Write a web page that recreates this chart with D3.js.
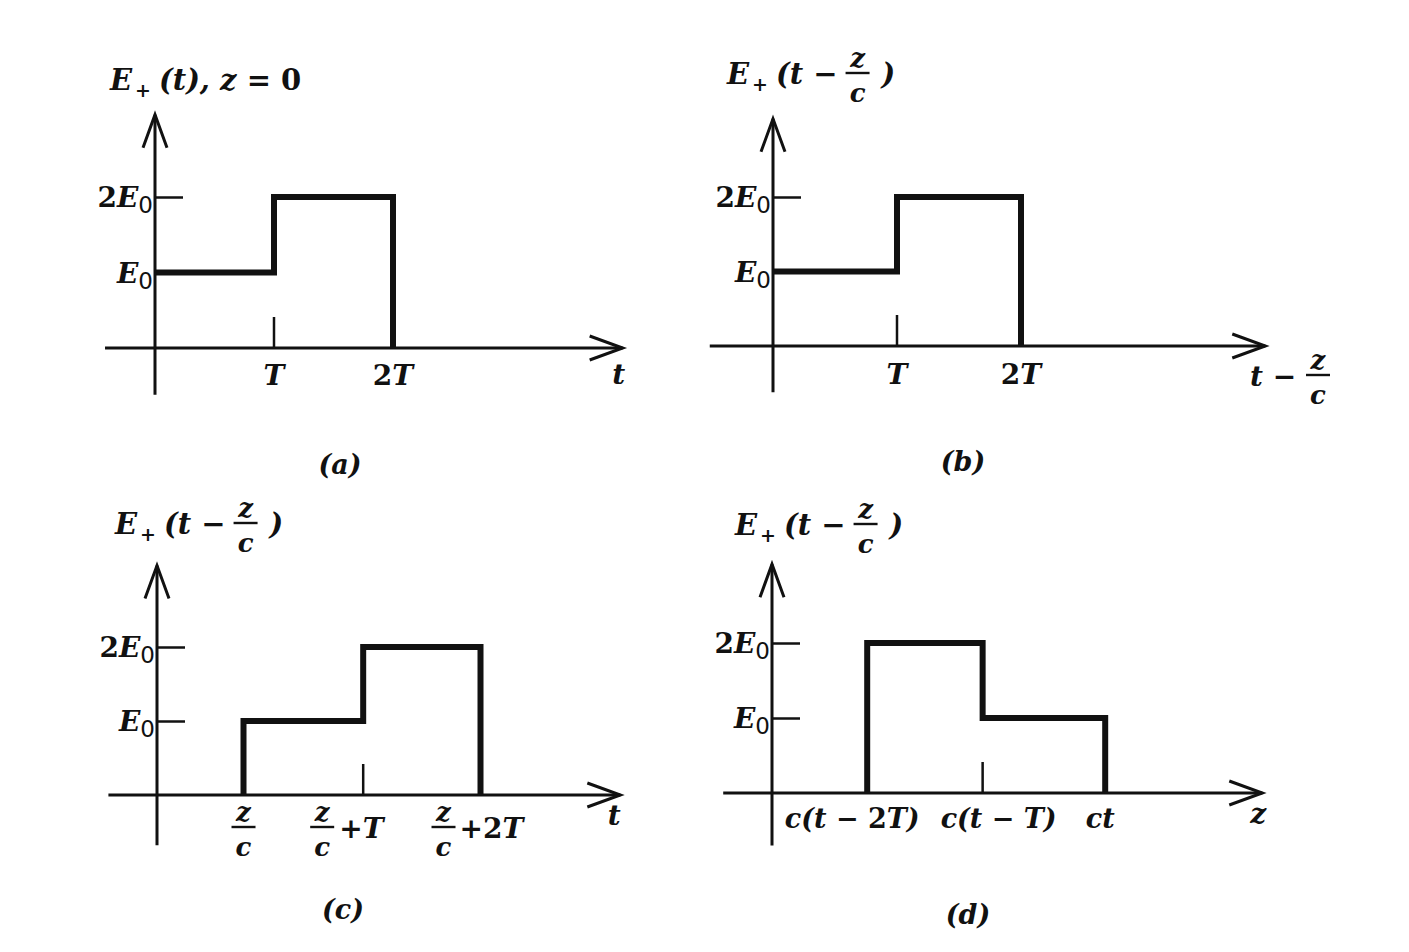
<!DOCTYPE html>
<html><head><meta charset="utf-8">
<script src="https://cdn.jsdelivr.net/npm/d3@7"></script>
<style>body{margin:0;background:#fff}</style>
</head><body><svg id="c" width="1409" height="952"></svg>
<script>
// ---- data ----
const levelValues = [1, 2];
const levelNames = [["", "E", "0"], ["2", "E", "0"]];
const edgesA = [0, 1, 2], heightsA = [1, 2];
const edgesB = [0, 1, 2], heightsB = [1, 2];
const edgesC = [0.73, 1.74, 2.73], heightsC = [1, 2];
const edgesD = [0.8, 1.77, 2.8], heightsD = [2, 1];
const tickLabelsA = ["", "T", "2T"];
const tickLabelsB = ["", "T", "2T"];
const tickLabelsC = ["", "+T", "+2T"];   // each preceded by z/c
const tickLabelsD = ["c(t − 2T)", "c(t − T)", "ct"];
const captions = ["(a)", "(b)", "(c)", "(d)"];

const svg = d3.select("#c");
const INK = "#111";
const FONT = "'DejaVu Serif','Liberation Serif',serif";

const panels = [
  {cap: captions[0], ox:155, oy:348, ux:119, uy:75.5, x0:-0.42, x1:3.93, y0:-0.62, y1:3.09, edges:edgesA, heights:heightsA, ticks:tickLabelsA, capX:340, capY:474},
  {cap: captions[1], ox:773, oy:346, ux:124, uy:74.5, x0:-0.51, x1:3.97, y0:-0.62, y1:3.05, edges:edgesB, heights:heightsB, ticks:tickLabelsB, capX:963, capY:471},
  {cap: captions[2], ox:157, oy:795, ux:118.5, uy:74, x0:-0.41, x1:3.91, y0:-0.68, y1:3.1, edges:edgesC, heights:heightsC, ticks:tickLabelsC, capX:343, capY:919},
  {cap: captions[3], ox:772, oy:793, ux:119, uy:75, x0:-0.41, x1:4.12, y0:-0.7, y1:3.05, edges:edgesD, heights:heightsD, ticks:tickLabelsD, capX:968, capY:924}
];

function txt(g, x, y, size, anchor) {
  return g.append("text").attr("x", x).attr("y", y)
    .attr("font-family", FONT).attr("font-size", size)
    .attr("font-weight", "bold").attr("font-style", "italic")
    .attr("fill", INK).attr("text-anchor", anchor || "start");
}
function frac(g, cx, yBar, size, w) {
  txt(g, cx, yBar - 6, size, "middle").text("z");
  g.append("line").attr("x1", cx - w/2).attr("x2", cx + w/2).attr("y1", yBar).attr("y2", yBar)
    .attr("stroke", INK).attr("stroke-width", 2.4);
  txt(g, cx, yBar + size * 1.1, size, "middle").text("c");
}
function title(g, x, y, withFrac) {
  const t = txt(g, x, y, 29);
  t.append("tspan").text("E");
  t.append("tspan").attr("font-size", 19).attr("font-style", "normal").attr("dy", 7).attr("dx", 3).text("+");
  if (!withFrac) {
    t.append("tspan").attr("dy", -7).attr("dx", 8).text("(t), z ");
    t.append("tspan").attr("font-style", "normal").text("= 0");
  } else {
    t.append("tspan").attr("dy", -7).attr("dx", 8).text("(t ");
    t.append("tspan").attr("font-style", "normal").text("−");
    const bb = t.node().getBBox();
    const fx = bb.x + bb.width + 20;
    frac(g, fx, y - 11, 26, 24);
    txt(g, fx + 24, y, 29).text(")");
  }
}
function arrowHead(g, x, y, dir) {
  const L = 33, W = 12;
  let pts;
  if (dir === "up") pts = [[x - W, y + L], [x, y], [x + W, y + L]];
  else pts = [[x - L, y - W], [x, y], [x - L, y + W]];
  g.append("path").attr("d", d3.line()(pts)).attr("fill", "none")
    .attr("stroke", INK).attr("stroke-width", 3).attr("stroke-linejoin", "miter");
}

panels.forEach((p, i) => {
  const g = svg.append("g");
  const x = d3.scaleLinear().domain([0, 1]).range([p.ox, p.ox + p.ux]);
  const y = d3.scaleLinear().domain([0, 1]).range([p.oy, p.oy - p.uy]);

  // axes
  g.append("line").attr("x1", x(p.x0)).attr("x2", x(p.x1)).attr("y1", y(0)).attr("y2", y(0))
    .attr("stroke", INK).attr("stroke-width", 3);
  arrowHead(g, x(p.x1), y(0), "right");
  g.append("line").attr("x1", x(0)).attr("x2", x(0)).attr("y1", y(p.y0)).attr("y2", y(p.y1))
    .attr("stroke", INK).attr("stroke-width", 3);
  arrowHead(g, x(0), y(p.y1), "up");

  // level ticks (inside, to the right of the y axis)
  const lv = g.append("g").attr("transform", `translate(${x(0)},0)`)
    .call(d3.axisRight(y).tickValues(levelValues).tickSize(28).tickFormat(""));
  lv.select(".domain").remove();
  lv.selectAll(".tick line").attr("stroke", INK).attr("stroke-width", 2.5);

  // level labels
  levelValues.forEach((v, k) => {
    const n = levelNames[k];
    const t = txt(g, x(0) - 2, y(v) + 10, 28, "end");
    if (n[0]) t.append("tspan").attr("font-style", "normal").text(n[0]);
    t.append("tspan").text(n[1]);
    t.append("tspan").attr("font-size", 23).attr("font-weight", "normal").attr("font-style", "normal")
      .attr("font-family", "'DejaVu Sans',sans-serif").attr("dy", 6).text(n[2]);
  });

  // tick at the middle edge
  g.append("line").attr("x1", x(p.edges[1])).attr("x2", x(p.edges[1]))
    .attr("y1", y(0)).attr("y2", y(0) - 31).attr("stroke", INK).attr("stroke-width", 2.5);

  // pulse
  const e = p.edges, h = p.heights;
  const pts = [];
  if (e[0] > 0) pts.push([e[0], 0]);
  pts.push([e[0], h[0]], [e[1], h[0]], [e[1], h[1]], [e[2], h[1]], [e[2], 0]);
  g.append("path").attr("d", d3.line().x(d => x(d[0])).y(d => y(d[1]))(pts))
    .attr("fill", "none").attr("stroke", INK).attr("stroke-width", 6)
    .attr("stroke-linejoin", "miter");

  // caption
  txt(g, p.capX, p.capY, 27, "middle").text(p.cap);

  // panel-specific labels
  if (i === 0) {
    title(g, 110, 90, false);
    txt(g, x(e[1]), y(0) + 37, 28, "middle").text(p.ticks[1]);
    txt(g, x(e[2]), y(0) + 37, 28, "middle").html("<tspan font-style='normal'>2</tspan>T");
    txt(g, x(p.x1) - 4, y(0) + 36, 28, "middle").text("t");
  } else if (i === 1) {
    title(g, 727, 84, true);
    txt(g, x(e[1]), y(0) + 38, 28, "middle").text(p.ticks[1]);
    txt(g, x(e[2]), y(0) + 38, 28, "middle").html("<tspan font-style='normal'>2</tspan>T");
    txt(g, 1250, y(0) + 40, 28).html("t <tspan font-style='normal'>−</tspan>");
    frac(g, 1318, y(0) + 29, 26, 24);
  } else if (i === 2) {
    title(g, 115, 534, true);
    const yb = y(0) + 32;
    frac(g, x(e[0]), yb, 26, 24);
    frac(g, x(e[1]) - 41, yb, 26, 24);
    txt(g, x(e[1]) - 24, yb + 11, 28).html("<tspan font-style='normal'>+</tspan>T");
    frac(g, x(e[2]) - 37, yb, 26, 24);
    txt(g, x(e[2]) - 21, yb + 11, 28).html("<tspan font-style='normal'>+2</tspan>T");
    txt(g, x(p.x1) - 6, y(0) + 30, 28, "middle").text("t");
  } else {
    title(g, 735, 535, true);
    const yl = y(0) + 35;
    txt(g, x(e[0]) - 15, yl, 27, "middle").html("c(t <tspan font-style='normal'>−</tspan> <tspan font-style='normal'>2</tspan>T)");
    txt(g, x(e[1]) + 16, yl, 27, "middle").html("c(t <tspan font-style='normal'>−</tspan> T)");
    txt(g, x(e[2]) - 5, yl, 27, "middle").text(p.ticks[2]);
    txt(g, x(p.x1) - 4, y(0) + 30, 28, "middle").text("z");
  }
});
</script>
</body></html>
